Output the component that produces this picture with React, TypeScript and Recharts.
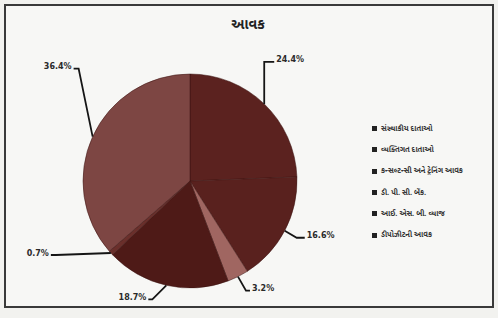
import React from 'react';
import { PieChart, Pie, Cell } from 'recharts';

const categories = [
  'સંસ્થાકીય દાતાઓ',
  'વ્યક્તિગત દાતાઓ',
  'કન્સલ્ટન્સી અને ટ્રેનિંગ આવક',
  'ડી. પી. સી. બેંક.',
  'આઈ. એસ. બી. વ્યાજ',
  'ડીપોઝીટની આવક',
];
const shares = [24.4, 16.6, 3.2, 18.7, 0.7, 36.4];
const colors = ['#5b221f', '#59211e', '#a06661', '#4e1a17', '#6a2f2b', '#7d4643'];
const title = 'આવક';

// leader-line bends (elbow offset from slice edge, then horizontal run)
const leaderBend: [number, number, number][] = [
  [0, -42, 10],
  [12, 7, 8],
  [8, 14, 4],
  [-14, 14, -4],
  [-55, 2, -5],
  [-14, -68, -5],
];

const data = categories.map((name, i) => ({ name, value: shares[i] }));
const RADIAN = Math.PI / 180;
const FONT = '"Noto Sans Gujarati", "Noto Sans", "DejaVu Sans", sans-serif';

const renderLabel = (props: any) => {
  const { cx, cy, midAngle, outerRadius, index, value } = props;
  const ex = cx + outerRadius * Math.cos(-midAngle * RADIAN);
  const ey = cy + outerRadius * Math.sin(-midAngle * RADIAN);
  const [dx, dy, run] = leaderBend[index];
  const bx = ex + dx;
  const by = ey + dy;
  const tx = bx + run;
  const right = run >= 0;
  return (
    <g key={`lbl-${index}`}>
      <path d={`M${ex},${ey}L${bx},${by}L${tx},${by}`} stroke="#151515" strokeWidth={1.8} fill="none" />
      <text
        x={tx + (right ? 2 : -2)}
        y={by - 2}
        textAnchor={right ? 'start' : 'end'}
        dominantBaseline="central"
        fontSize={8}
        fontWeight={700}
        fill="#2a2a2a"
        fontFamily='"DejaVu Sans", sans-serif'
      >
        {`${Number(value).toFixed(1)}%`}
      </text>
    </g>
  );
};

export default function App() {
  return (
    <div style={{ position: 'absolute', left: 0, top: 0, width: 498, height: 318, background: '#f2f2ef' }}>
      <svg width={498} height={318} style={{ position: 'absolute', left: 0, top: 0 }}>
        <rect x={5} y={5} width={488} height={302} fill="#f7f7f5" stroke="#3a3a3a" strokeWidth={2} />
        <text x={248} y={29} textAnchor="middle" fontSize={14} fontWeight={700} fill="#222" fontFamily={FONT}>
          {title}
        </text>
      </svg>
      <div style={{ position: 'absolute', left: 0, top: 0 }}>
        <PieChart width={498} height={318} margin={{ top: 0, right: 0, bottom: 0, left: 0 }}>
          <Pie
            data={data}
            dataKey="value"
            nameKey="name"
            cx={190}
            cy={181}
            outerRadius={107}
            startAngle={90}
            endAngle={-270}
            stroke="#3a1210"
            strokeWidth={0.5}
            label={renderLabel}
            labelLine={false}
            isAnimationActive={false}
          >
            {data.map((d, i) => (
              <Cell key={d.name} fill={colors[i]} />
            ))}
          </Pie>
        </PieChart>
      </div>
      <div
        style={{
          position: 'absolute',
          left: 372,
          top: 118,
          width: 124,
          fontFamily: FONT,
          fontSize: 7.5,
          fontWeight: 700,
          color: '#333',
        }}
      >
        {data.map((d) => (
          <div key={d.name} style={{ display: 'flex', alignItems: 'center', height: 21.3, whiteSpace: 'nowrap' }}>
            <span style={{ width: 5, height: 5, background: '#222', marginRight: 4, display: 'inline-block' }} />
            <span>{d.name}</span>
          </div>
        ))}
      </div>
    </div>
  );
}
